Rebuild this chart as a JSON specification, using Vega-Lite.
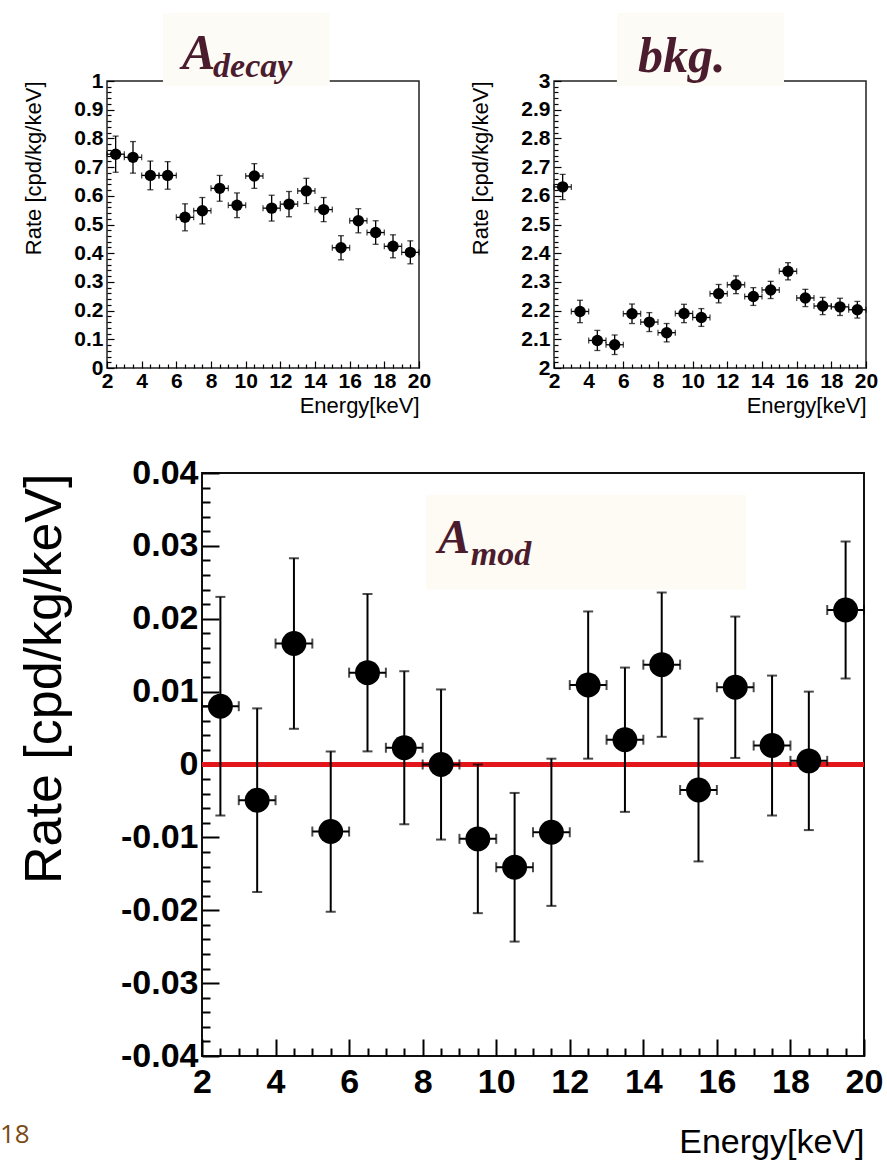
{
  "$schema": "https://vega.github.io/schema/vega-lite/v6.json",
  "background": "white",
  "padding": {"left": 0, "top": 12, "right": 5, "bottom": 5},
  "title": {"text": "18", "orient": "bottom", "anchor": "start", "dx": -15, "offset": -38, "fontSize": 26, "font": "Open Sans", "fontWeight": "normal", "color": "#7b4a14"},
  "datasets": {
    "decay": [
      {"E": 2.5, "r": 0.745, "err": 0.063, "w": 0.5},
      {"E": 3.5, "r": 0.734, "err": 0.055, "w": 0.5},
      {"E": 4.5, "r": 0.671, "err": 0.05, "w": 0.5},
      {"E": 5.5, "r": 0.671, "err": 0.048, "w": 0.5},
      {"E": 6.5, "r": 0.525, "err": 0.047, "w": 0.5},
      {"E": 7.5, "r": 0.548, "err": 0.046, "w": 0.5},
      {"E": 8.5, "r": 0.626, "err": 0.045, "w": 0.5},
      {"E": 9.5, "r": 0.567, "err": 0.043, "w": 0.5},
      {"E": 10.5, "r": 0.669, "err": 0.043, "w": 0.5},
      {"E": 11.5, "r": 0.557, "err": 0.045, "w": 0.5},
      {"E": 12.5, "r": 0.571, "err": 0.044, "w": 0.5},
      {"E": 13.5, "r": 0.617, "err": 0.044, "w": 0.5},
      {"E": 14.5, "r": 0.552, "err": 0.042, "w": 0.5},
      {"E": 15.5, "r": 0.419, "err": 0.042, "w": 0.5},
      {"E": 16.5, "r": 0.513, "err": 0.042, "w": 0.5},
      {"E": 17.5, "r": 0.472, "err": 0.041, "w": 0.5},
      {"E": 18.5, "r": 0.424, "err": 0.04, "w": 0.5},
      {"E": 19.5, "r": 0.403, "err": 0.04, "w": 0.5}
    ],
    "bkg": [
      {"E": 2.5, "r": 2.631, "err": 0.044, "w": 0.5},
      {"E": 3.5, "r": 2.197, "err": 0.039, "w": 0.5},
      {"E": 4.5, "r": 2.096, "err": 0.035, "w": 0.5},
      {"E": 5.5, "r": 2.081, "err": 0.034, "w": 0.5},
      {"E": 6.5, "r": 2.189, "err": 0.034, "w": 0.5},
      {"E": 7.5, "r": 2.16, "err": 0.033, "w": 0.5},
      {"E": 8.5, "r": 2.123, "err": 0.032, "w": 0.5},
      {"E": 9.5, "r": 2.19, "err": 0.032, "w": 0.5},
      {"E": 10.5, "r": 2.176, "err": 0.031, "w": 0.5},
      {"E": 11.5, "r": 2.259, "err": 0.032, "w": 0.5},
      {"E": 12.5, "r": 2.29, "err": 0.031, "w": 0.5},
      {"E": 13.5, "r": 2.249, "err": 0.031, "w": 0.5},
      {"E": 14.5, "r": 2.272, "err": 0.03, "w": 0.5},
      {"E": 15.5, "r": 2.337, "err": 0.03, "w": 0.5},
      {"E": 16.5, "r": 2.244, "err": 0.03, "w": 0.5},
      {"E": 17.5, "r": 2.216, "err": 0.03, "w": 0.5},
      {"E": 18.5, "r": 2.213, "err": 0.03, "w": 0.5},
      {"E": 19.5, "r": 2.203, "err": 0.029, "w": 0.5}
    ],
    "mod": [
      {"E": 2.5, "r": 0.008, "err": 0.015, "w": 0.5},
      {"E": 3.5, "r": -0.0049, "err": 0.0126, "w": 0.5},
      {"E": 4.5, "r": 0.0166, "err": 0.0117, "w": 0.5},
      {"E": 5.5, "r": -0.0092, "err": 0.011, "w": 0.5},
      {"E": 6.5, "r": 0.0126, "err": 0.0108, "w": 0.5},
      {"E": 7.5, "r": 0.0023, "err": 0.0105, "w": 0.5},
      {"E": 8.5, "r": 0.0, "err": 0.0103, "w": 0.5},
      {"E": 9.5, "r": -0.0102, "err": 0.0102, "w": 0.5},
      {"E": 10.5, "r": -0.0141, "err": 0.0102, "w": 0.5},
      {"E": 11.5, "r": -0.0093, "err": 0.0101, "w": 0.5},
      {"E": 12.5, "r": 0.0109, "err": 0.0101, "w": 0.5},
      {"E": 13.5, "r": 0.0034, "err": 0.0099, "w": 0.5},
      {"E": 14.5, "r": 0.0137, "err": 0.0099, "w": 0.5},
      {"E": 15.5, "r": -0.0035, "err": 0.0098, "w": 0.5},
      {"E": 16.5, "r": 0.0106, "err": 0.0097, "w": 0.5},
      {"E": 17.5, "r": 0.0026, "err": 0.0096, "w": 0.5},
      {"E": 18.5, "r": 0.0005, "err": 0.0095, "w": 0.5},
      {"E": 19.5, "r": 0.0212, "err": 0.0094, "w": 0.5}
    ]
  },
  "spacing": 38,
  "vconcat": [
    {
      "spacing": 0,
      "hconcat": [
        {"width": 6, "height": 1, "data": {"values": []}, "mark": "point", "view": {"stroke": null}},
        {
          "spacing": 36,
          "hconcat": [
            {
              "width": 312, "height": 287,
              "view": {"stroke": "#222", "strokeWidth": 1.5},
              "data": {"name": "decay"},
              "layer": [
                {"data": {"values": [{}]}, "mark": {"type": "rect", "color": "#fdfbf6"},
                 "encoding": {
                   "x": {"datum": 5.23, "type": "quantitative", "scale": {"domain": [2, 20], "zero": false, "nice": false},
                     "axis": {"values": [2,2.5,3,3.5,4,4.5,5,5.5,6,6.5,7,7.5,8,8.5,9,9.5,10,10.5,11,11.5,12,12.5,13,13.5,14,14.5,15,15.5,16,16.5,17,17.5,18,18.5,19,19.5,20], "labelExpr": "datum.value % 2 === 0 ? '' + datum.value : ''", "tickSize": {"condition": {"test": "datum.value % 2 === 0", "value": -7}, "value": -4}, "tickWidth": 1.2, "labelFontSize": 21, "labelPadding": 9, "labelOverlap": false, "labelFlush": false, "title": "Energy[keV]", "titleFontSize": 22, "titlePadding": 1}},
                   "x2": {"datum": 14.85},
                   "y": {"datum": 0.983, "type": "quantitative", "scale": {"domain": [0, 1], "zero": false, "nice": false},
                     "axis": {"values": [0,0.02,0.04,0.06,0.08,0.1,0.12,0.14,0.16,0.18,0.2,0.22,0.24,0.26,0.28,0.3,0.32,0.34,0.36,0.38,0.4,0.42,0.44,0.46,0.48,0.5,0.52,0.54,0.56,0.58,0.6,0.62,0.64,0.66,0.68,0.7,0.72,0.74,0.76,0.78,0.8,0.82,0.84,0.86,0.88,0.9,0.92,0.94,0.96,0.98,1], "labelExpr": "abs(datum.value*10 - round(datum.value*10)) < 1e-6 ? format(datum.value, '~g') : ''", "tickSize": {"condition": {"test": "abs(datum.value*10 - round(datum.value*10)) < 1e-6", "value": -7}, "value": -4}, "tickWidth": 1.2, "labelFontSize": 21, "labelPadding": 11, "labelOverlap": false, "minExtent": 33, "maxExtent": 33, "title": "Rate [cpd/kg/keV]", "titleFontSize": 22, "titlePadding": 29}},
                   "y2": {"datum": 1.237}}},
                {"data": {"values": [{}]}, "mark": {"type": "text", "text": "A", "font": "Liberation Serif", "fontStyle": "italic", "fontWeight": "bold", "fontSize": 50, "color": "#4b1c2e", "align": "left", "baseline": "alphabetic"},
                 "encoding": {
                   "x": {"datum": 6.33, "type": "quantitative", "scale": {"domain": [2, 20], "zero": false, "nice": false},
                     "axis": {"values": [2,2.5,3,3.5,4,4.5,5,5.5,6,6.5,7,7.5,8,8.5,9,9.5,10,10.5,11,11.5,12,12.5,13,13.5,14,14.5,15,15.5,16,16.5,17,17.5,18,18.5,19,19.5,20], "labelExpr": "datum.value % 2 === 0 ? '' + datum.value : ''", "tickSize": {"condition": {"test": "datum.value % 2 === 0", "value": -7}, "value": -4}, "tickWidth": 1.2, "labelFontSize": 21, "labelPadding": 9, "labelOverlap": false, "labelFlush": false, "title": "Energy[keV]", "titleFontSize": 22, "titlePadding": 1}},
                   "y": {"datum": 1.042, "type": "quantitative", "scale": {"domain": [0, 1], "zero": false, "nice": false},
                     "axis": {"values": [0,0.02,0.04,0.06,0.08,0.1,0.12,0.14,0.16,0.18,0.2,0.22,0.24,0.26,0.28,0.3,0.32,0.34,0.36,0.38,0.4,0.42,0.44,0.46,0.48,0.5,0.52,0.54,0.56,0.58,0.6,0.62,0.64,0.66,0.68,0.7,0.72,0.74,0.76,0.78,0.8,0.82,0.84,0.86,0.88,0.9,0.92,0.94,0.96,0.98,1], "labelExpr": "abs(datum.value*10 - round(datum.value*10)) < 1e-6 ? format(datum.value, '~g') : ''", "tickSize": {"condition": {"test": "abs(datum.value*10 - round(datum.value*10)) < 1e-6", "value": -7}, "value": -4}, "tickWidth": 1.2, "labelFontSize": 21, "labelPadding": 11, "labelOverlap": false, "minExtent": 33, "maxExtent": 33, "title": "Rate [cpd/kg/keV]", "titleFontSize": 22, "titlePadding": 29}}}},
                {"data": {"values": [{}]}, "mark": {"type": "text", "text": "decay", "font": "Liberation Serif", "fontStyle": "italic", "fontWeight": "bold", "fontSize": 34, "color": "#4b1c2e", "align": "left", "baseline": "alphabetic"},
                 "encoding": {
                   "x": {"datum": 8.12, "type": "quantitative", "scale": {"domain": [2, 20], "zero": false, "nice": false},
                     "axis": {"values": [2,2.5,3,3.5,4,4.5,5,5.5,6,6.5,7,7.5,8,8.5,9,9.5,10,10.5,11,11.5,12,12.5,13,13.5,14,14.5,15,15.5,16,16.5,17,17.5,18,18.5,19,19.5,20], "labelExpr": "datum.value % 2 === 0 ? '' + datum.value : ''", "tickSize": {"condition": {"test": "datum.value % 2 === 0", "value": -7}, "value": -4}, "tickWidth": 1.2, "labelFontSize": 21, "labelPadding": 9, "labelOverlap": false, "labelFlush": false, "title": "Energy[keV]", "titleFontSize": 22, "titlePadding": 1}},
                   "y": {"datum": 1.014, "type": "quantitative", "scale": {"domain": [0, 1], "zero": false, "nice": false},
                     "axis": {"values": [0,0.02,0.04,0.06,0.08,0.1,0.12,0.14,0.16,0.18,0.2,0.22,0.24,0.26,0.28,0.3,0.32,0.34,0.36,0.38,0.4,0.42,0.44,0.46,0.48,0.5,0.52,0.54,0.56,0.58,0.6,0.62,0.64,0.66,0.68,0.7,0.72,0.74,0.76,0.78,0.8,0.82,0.84,0.86,0.88,0.9,0.92,0.94,0.96,0.98,1], "labelExpr": "abs(datum.value*10 - round(datum.value*10)) < 1e-6 ? format(datum.value, '~g') : ''", "tickSize": {"condition": {"test": "abs(datum.value*10 - round(datum.value*10)) < 1e-6", "value": -7}, "value": -4}, "tickWidth": 1.2, "labelFontSize": 21, "labelPadding": 11, "labelOverlap": false, "minExtent": 33, "maxExtent": 33, "title": "Rate [cpd/kg/keV]", "titleFontSize": 22, "titlePadding": 29}}}},
                {"mark": {"type": "errorbar", "ticks": {"size": 6}, "color": "#000", "thickness": 1.3},
                 "encoding": {
                   "x": {"field": "E", "type": "quantitative", "scale": {"domain": [2, 20], "zero": false, "nice": false},
                     "axis": {"values": [2,2.5,3,3.5,4,4.5,5,5.5,6,6.5,7,7.5,8,8.5,9,9.5,10,10.5,11,11.5,12,12.5,13,13.5,14,14.5,15,15.5,16,16.5,17,17.5,18,18.5,19,19.5,20], "labelExpr": "datum.value % 2 === 0 ? '' + datum.value : ''", "tickSize": {"condition": {"test": "datum.value % 2 === 0", "value": -7}, "value": -4}, "tickWidth": 1.2, "labelFontSize": 21, "labelPadding": 9, "labelOverlap": false, "labelFlush": false, "title": "Energy[keV]", "titleFontSize": 22, "titlePadding": 1}},
                   "y": {"field": "r", "type": "quantitative", "scale": {"domain": [0, 1], "zero": false, "nice": false},
                     "axis": {"values": [0,0.02,0.04,0.06,0.08,0.1,0.12,0.14,0.16,0.18,0.2,0.22,0.24,0.26,0.28,0.3,0.32,0.34,0.36,0.38,0.4,0.42,0.44,0.46,0.48,0.5,0.52,0.54,0.56,0.58,0.6,0.62,0.64,0.66,0.68,0.7,0.72,0.74,0.76,0.78,0.8,0.82,0.84,0.86,0.88,0.9,0.92,0.94,0.96,0.98,1], "labelExpr": "abs(datum.value*10 - round(datum.value*10)) < 1e-6 ? format(datum.value, '~g') : ''", "tickSize": {"condition": {"test": "abs(datum.value*10 - round(datum.value*10)) < 1e-6", "value": -7}, "value": -4}, "tickWidth": 1.2, "labelFontSize": 21, "labelPadding": 11, "labelOverlap": false, "minExtent": 33, "maxExtent": 33, "title": "Rate [cpd/kg/keV]", "titleFontSize": 22, "titlePadding": 29}},
                   "yError": {"field": "err"}}},
                {"mark": {"type": "errorbar", "ticks": {"size": 6}, "color": "#000", "thickness": 1.3},
                 "encoding": {
                   "x": {"field": "E", "type": "quantitative", "scale": {"domain": [2, 20], "zero": false, "nice": false},
                     "axis": {"values": [2,2.5,3,3.5,4,4.5,5,5.5,6,6.5,7,7.5,8,8.5,9,9.5,10,10.5,11,11.5,12,12.5,13,13.5,14,14.5,15,15.5,16,16.5,17,17.5,18,18.5,19,19.5,20], "labelExpr": "datum.value % 2 === 0 ? '' + datum.value : ''", "tickSize": {"condition": {"test": "datum.value % 2 === 0", "value": -7}, "value": -4}, "tickWidth": 1.2, "labelFontSize": 21, "labelPadding": 9, "labelOverlap": false, "labelFlush": false, "title": "Energy[keV]", "titleFontSize": 22, "titlePadding": 1}},
                   "y": {"field": "r", "type": "quantitative", "scale": {"domain": [0, 1], "zero": false, "nice": false},
                     "axis": {"values": [0,0.02,0.04,0.06,0.08,0.1,0.12,0.14,0.16,0.18,0.2,0.22,0.24,0.26,0.28,0.3,0.32,0.34,0.36,0.38,0.4,0.42,0.44,0.46,0.48,0.5,0.52,0.54,0.56,0.58,0.6,0.62,0.64,0.66,0.68,0.7,0.72,0.74,0.76,0.78,0.8,0.82,0.84,0.86,0.88,0.9,0.92,0.94,0.96,0.98,1], "labelExpr": "abs(datum.value*10 - round(datum.value*10)) < 1e-6 ? format(datum.value, '~g') : ''", "tickSize": {"condition": {"test": "abs(datum.value*10 - round(datum.value*10)) < 1e-6", "value": -7}, "value": -4}, "tickWidth": 1.2, "labelFontSize": 21, "labelPadding": 11, "labelOverlap": false, "minExtent": 33, "maxExtent": 33, "title": "Rate [cpd/kg/keV]", "titleFontSize": 22, "titlePadding": 29}},
                   "xError": {"field": "w"}}},
                {"mark": {"type": "point", "filled": true, "size": 130, "color": "#000", "opacity": 1},
                 "encoding": {
                   "x": {"field": "E", "type": "quantitative", "scale": {"domain": [2, 20], "zero": false, "nice": false},
                     "axis": {"values": [2,2.5,3,3.5,4,4.5,5,5.5,6,6.5,7,7.5,8,8.5,9,9.5,10,10.5,11,11.5,12,12.5,13,13.5,14,14.5,15,15.5,16,16.5,17,17.5,18,18.5,19,19.5,20], "labelExpr": "datum.value % 2 === 0 ? '' + datum.value : ''", "tickSize": {"condition": {"test": "datum.value % 2 === 0", "value": -7}, "value": -4}, "tickWidth": 1.2, "labelFontSize": 21, "labelPadding": 9, "labelOverlap": false, "labelFlush": false, "title": "Energy[keV]", "titleFontSize": 22, "titlePadding": 1}},
                   "y": {"field": "r", "type": "quantitative", "scale": {"domain": [0, 1], "zero": false, "nice": false},
                     "axis": {"values": [0,0.02,0.04,0.06,0.08,0.1,0.12,0.14,0.16,0.18,0.2,0.22,0.24,0.26,0.28,0.3,0.32,0.34,0.36,0.38,0.4,0.42,0.44,0.46,0.48,0.5,0.52,0.54,0.56,0.58,0.6,0.62,0.64,0.66,0.68,0.7,0.72,0.74,0.76,0.78,0.8,0.82,0.84,0.86,0.88,0.9,0.92,0.94,0.96,0.98,1], "labelExpr": "abs(datum.value*10 - round(datum.value*10)) < 1e-6 ? format(datum.value, '~g') : ''", "tickSize": {"condition": {"test": "abs(datum.value*10 - round(datum.value*10)) < 1e-6", "value": -7}, "value": -4}, "tickWidth": 1.2, "labelFontSize": 21, "labelPadding": 11, "labelOverlap": false, "minExtent": 33, "maxExtent": 33, "title": "Rate [cpd/kg/keV]", "titleFontSize": 22, "titlePadding": 29}}
                 }}
              ]
            },
            {
              "width": 312, "height": 287,
              "view": {"stroke": "#222", "strokeWidth": 1.5},
              "data": {"name": "bkg"},
              "layer": [
                {"data": {"values": [{}]}, "mark": {"type": "rect", "color": "#fdfbf6"},
                 "encoding": {
                   "x": {"datum": 5.63, "type": "quantitative", "scale": {"domain": [2, 20], "zero": false, "nice": false},
                     "axis": {"values": [2,2.5,3,3.5,4,4.5,5,5.5,6,6.5,7,7.5,8,8.5,9,9.5,10,10.5,11,11.5,12,12.5,13,13.5,14,14.5,15,15.5,16,16.5,17,17.5,18,18.5,19,19.5,20], "labelExpr": "datum.value % 2 === 0 ? '' + datum.value : ''", "tickSize": {"condition": {"test": "datum.value % 2 === 0", "value": -7}, "value": -4}, "tickWidth": 1.2, "labelFontSize": 21, "labelPadding": 9, "labelOverlap": false, "labelFlush": false, "title": "Energy[keV]", "titleFontSize": 22, "titlePadding": 1}},
                   "x2": {"datum": 15.27},
                   "y": {"datum": 2.983, "type": "quantitative", "scale": {"domain": [2, 3], "zero": false, "nice": false},
                     "axis": {"values": [2,2.02,2.04,2.06,2.08,2.1,2.12,2.14,2.16,2.18,2.2,2.22,2.24,2.26,2.28,2.3,2.32,2.34,2.36,2.38,2.4,2.42,2.44,2.46,2.48,2.5,2.52,2.54,2.56,2.58,2.6,2.62,2.64,2.66,2.68,2.7,2.72,2.74,2.76,2.78,2.8,2.82,2.84,2.86,2.88,2.9,2.92,2.94,2.96,2.98,3], "labelExpr": "abs(datum.value*10 - round(datum.value*10)) < 1e-6 ? format(datum.value, '~g') : ''", "tickSize": {"condition": {"test": "abs(datum.value*10 - round(datum.value*10)) < 1e-6", "value": -7}, "value": -4}, "tickWidth": 1.2, "labelFontSize": 21, "labelPadding": 11, "labelOverlap": false, "minExtent": 33, "maxExtent": 33, "title": "Rate [cpd/kg/keV]", "titleFontSize": 22, "titlePadding": 29}},
                   "y2": {"datum": 3.237}}},
                {"data": {"values": [{}]}, "mark": {"type": "text", "text": "bkg.", "font": "Liberation Serif", "fontStyle": "italic", "fontWeight": "bold", "fontSize": 50, "color": "#4b1c2e", "align": "left", "baseline": "alphabetic"},
                 "encoding": {
                   "x": {"datum": 6.85, "type": "quantitative", "scale": {"domain": [2, 20], "zero": false, "nice": false},
                     "axis": {"values": [2,2.5,3,3.5,4,4.5,5,5.5,6,6.5,7,7.5,8,8.5,9,9.5,10,10.5,11,11.5,12,12.5,13,13.5,14,14.5,15,15.5,16,16.5,17,17.5,18,18.5,19,19.5,20], "labelExpr": "datum.value % 2 === 0 ? '' + datum.value : ''", "tickSize": {"condition": {"test": "datum.value % 2 === 0", "value": -7}, "value": -4}, "tickWidth": 1.2, "labelFontSize": 21, "labelPadding": 9, "labelOverlap": false, "labelFlush": false, "title": "Energy[keV]", "titleFontSize": 22, "titlePadding": 1}},
                   "y": {"datum": 3.031, "type": "quantitative", "scale": {"domain": [2, 3], "zero": false, "nice": false},
                     "axis": {"values": [2,2.02,2.04,2.06,2.08,2.1,2.12,2.14,2.16,2.18,2.2,2.22,2.24,2.26,2.28,2.3,2.32,2.34,2.36,2.38,2.4,2.42,2.44,2.46,2.48,2.5,2.52,2.54,2.56,2.58,2.6,2.62,2.64,2.66,2.68,2.7,2.72,2.74,2.76,2.78,2.8,2.82,2.84,2.86,2.88,2.9,2.92,2.94,2.96,2.98,3], "labelExpr": "abs(datum.value*10 - round(datum.value*10)) < 1e-6 ? format(datum.value, '~g') : ''", "tickSize": {"condition": {"test": "abs(datum.value*10 - round(datum.value*10)) < 1e-6", "value": -7}, "value": -4}, "tickWidth": 1.2, "labelFontSize": 21, "labelPadding": 11, "labelOverlap": false, "minExtent": 33, "maxExtent": 33, "title": "Rate [cpd/kg/keV]", "titleFontSize": 22, "titlePadding": 29}}}},
                {"mark": {"type": "errorbar", "ticks": {"size": 6}, "color": "#000", "thickness": 1.3},
                 "encoding": {
                   "x": {"field": "E", "type": "quantitative", "scale": {"domain": [2, 20], "zero": false, "nice": false},
                     "axis": {"values": [2,2.5,3,3.5,4,4.5,5,5.5,6,6.5,7,7.5,8,8.5,9,9.5,10,10.5,11,11.5,12,12.5,13,13.5,14,14.5,15,15.5,16,16.5,17,17.5,18,18.5,19,19.5,20], "labelExpr": "datum.value % 2 === 0 ? '' + datum.value : ''", "tickSize": {"condition": {"test": "datum.value % 2 === 0", "value": -7}, "value": -4}, "tickWidth": 1.2, "labelFontSize": 21, "labelPadding": 9, "labelOverlap": false, "labelFlush": false, "title": "Energy[keV]", "titleFontSize": 22, "titlePadding": 1}},
                   "y": {"field": "r", "type": "quantitative", "scale": {"domain": [2, 3], "zero": false, "nice": false},
                     "axis": {"values": [2,2.02,2.04,2.06,2.08,2.1,2.12,2.14,2.16,2.18,2.2,2.22,2.24,2.26,2.28,2.3,2.32,2.34,2.36,2.38,2.4,2.42,2.44,2.46,2.48,2.5,2.52,2.54,2.56,2.58,2.6,2.62,2.64,2.66,2.68,2.7,2.72,2.74,2.76,2.78,2.8,2.82,2.84,2.86,2.88,2.9,2.92,2.94,2.96,2.98,3], "labelExpr": "abs(datum.value*10 - round(datum.value*10)) < 1e-6 ? format(datum.value, '~g') : ''", "tickSize": {"condition": {"test": "abs(datum.value*10 - round(datum.value*10)) < 1e-6", "value": -7}, "value": -4}, "tickWidth": 1.2, "labelFontSize": 21, "labelPadding": 11, "labelOverlap": false, "minExtent": 33, "maxExtent": 33, "title": "Rate [cpd/kg/keV]", "titleFontSize": 22, "titlePadding": 29}},
                   "yError": {"field": "err"}}},
                {"mark": {"type": "errorbar", "ticks": {"size": 6}, "color": "#000", "thickness": 1.3},
                 "encoding": {
                   "x": {"field": "E", "type": "quantitative", "scale": {"domain": [2, 20], "zero": false, "nice": false},
                     "axis": {"values": [2,2.5,3,3.5,4,4.5,5,5.5,6,6.5,7,7.5,8,8.5,9,9.5,10,10.5,11,11.5,12,12.5,13,13.5,14,14.5,15,15.5,16,16.5,17,17.5,18,18.5,19,19.5,20], "labelExpr": "datum.value % 2 === 0 ? '' + datum.value : ''", "tickSize": {"condition": {"test": "datum.value % 2 === 0", "value": -7}, "value": -4}, "tickWidth": 1.2, "labelFontSize": 21, "labelPadding": 9, "labelOverlap": false, "labelFlush": false, "title": "Energy[keV]", "titleFontSize": 22, "titlePadding": 1}},
                   "y": {"field": "r", "type": "quantitative", "scale": {"domain": [2, 3], "zero": false, "nice": false},
                     "axis": {"values": [2,2.02,2.04,2.06,2.08,2.1,2.12,2.14,2.16,2.18,2.2,2.22,2.24,2.26,2.28,2.3,2.32,2.34,2.36,2.38,2.4,2.42,2.44,2.46,2.48,2.5,2.52,2.54,2.56,2.58,2.6,2.62,2.64,2.66,2.68,2.7,2.72,2.74,2.76,2.78,2.8,2.82,2.84,2.86,2.88,2.9,2.92,2.94,2.96,2.98,3], "labelExpr": "abs(datum.value*10 - round(datum.value*10)) < 1e-6 ? format(datum.value, '~g') : ''", "tickSize": {"condition": {"test": "abs(datum.value*10 - round(datum.value*10)) < 1e-6", "value": -7}, "value": -4}, "tickWidth": 1.2, "labelFontSize": 21, "labelPadding": 11, "labelOverlap": false, "minExtent": 33, "maxExtent": 33, "title": "Rate [cpd/kg/keV]", "titleFontSize": 22, "titlePadding": 29}},
                   "xError": {"field": "w"}}},
                {"mark": {"type": "point", "filled": true, "size": 130, "color": "#000", "opacity": 1},
                 "encoding": {
                   "x": {"field": "E", "type": "quantitative", "scale": {"domain": [2, 20], "zero": false, "nice": false},
                     "axis": {"values": [2,2.5,3,3.5,4,4.5,5,5.5,6,6.5,7,7.5,8,8.5,9,9.5,10,10.5,11,11.5,12,12.5,13,13.5,14,14.5,15,15.5,16,16.5,17,17.5,18,18.5,19,19.5,20], "labelExpr": "datum.value % 2 === 0 ? '' + datum.value : ''", "tickSize": {"condition": {"test": "datum.value % 2 === 0", "value": -7}, "value": -4}, "tickWidth": 1.2, "labelFontSize": 21, "labelPadding": 9, "labelOverlap": false, "labelFlush": false, "title": "Energy[keV]", "titleFontSize": 22, "titlePadding": 1}},
                   "y": {"field": "r", "type": "quantitative", "scale": {"domain": [2, 3], "zero": false, "nice": false},
                     "axis": {"values": [2,2.02,2.04,2.06,2.08,2.1,2.12,2.14,2.16,2.18,2.2,2.22,2.24,2.26,2.28,2.3,2.32,2.34,2.36,2.38,2.4,2.42,2.44,2.46,2.48,2.5,2.52,2.54,2.56,2.58,2.6,2.62,2.64,2.66,2.68,2.7,2.72,2.74,2.76,2.78,2.8,2.82,2.84,2.86,2.88,2.9,2.92,2.94,2.96,2.98,3], "labelExpr": "abs(datum.value*10 - round(datum.value*10)) < 1e-6 ? format(datum.value, '~g') : ''", "tickSize": {"condition": {"test": "abs(datum.value*10 - round(datum.value*10)) < 1e-6", "value": -7}, "value": -4}, "tickWidth": 1.2, "labelFontSize": 21, "labelPadding": 11, "labelOverlap": false, "minExtent": 33, "maxExtent": 33, "title": "Rate [cpd/kg/keV]", "titleFontSize": 22, "titlePadding": 29}}
                 }}
              ]
            }
          ]
        }
      ]
    },
    {
      "spacing": 0,
      "hconcat": [
        {"width": 1, "height": 1, "data": {"values": []}, "mark": "point", "view": {"stroke": null}},
        {
          "width": 662, "height": 583,
          "view": {"stroke": "#111", "strokeWidth": 2},
          "data": {"name": "mod"},
          "layer": [
            {"data": {"values": [{}]}, "mark": {"type": "rect", "color": "#fdfbf3"},
             "encoding": {
               "x": {"datum": 8.09, "type": "quantitative", "scale": {"domain": [2, 20], "zero": false, "nice": false},
                 "axis": {"values": [2,2.5,3,3.5,4,4.5,5,5.5,6,6.5,7,7.5,8,8.5,9,9.5,10,10.5,11,11.5,12,12.5,13,13.5,14,14.5,15,15.5,16,16.5,17,17.5,18,18.5,19,19.5,20], "labelExpr": "datum.value % 2 === 0 ? '' + datum.value : ''", "tickSize": {"condition": {"test": "datum.value % 2 === 0", "value": -17}, "value": -8}, "tickWidth": 2, "labelFontSize": 34, "labelPadding": 26, "labelOverlap": false, "labelFlush": false, "title": "Energy[keV]", "titleFontSize": 34, "titlePadding": 17}},
               "x2": {"datum": 16.79},
               "y": {"datum": 0.024, "type": "quantitative", "scale": {"domain": [-0.04, 0.04], "zero": false, "nice": false},
                 "axis": {"values": [-0.04,-0.038,-0.036,-0.034,-0.032,-0.03,-0.028,-0.026,-0.024,-0.022,-0.02,-0.018,-0.016,-0.014,-0.012,-0.01,-0.008,-0.006,-0.004,-0.002,0,0.002,0.004,0.006,0.008,0.01,0.012,0.014,0.016,0.018,0.02,0.022,0.024,0.026,0.028,0.03,0.032,0.034,0.036,0.038,0.04], "labelExpr": "abs(datum.value*100 - round(datum.value*100)) < 1e-6 ? replace(format(datum.value, '~g'), '\u2212', '-') : ''", "tickSize": {"condition": {"test": "abs(datum.value*100 - round(datum.value*100)) < 1e-6", "value": -17}, "value": -8}, "tickWidth": 2, "labelFontSize": 34, "labelPadding": 21, "labelOverlap": false, "minExtent": 84, "maxExtent": 84, "title": "Rate [cpd/kg/keV]", "titleFontSize": 52, "titlePadding": 47}},
               "y2": {"datum": 0.037}}},
            {"data": {"values": [{}]}, "mark": {"type": "text", "text": "A", "font": "Liberation Serif", "fontStyle": "italic", "fontWeight": "bold", "fontSize": 48, "color": "#4b1c2e", "align": "left", "baseline": "alphabetic"},
             "encoding": {
               "x": {"datum": 8.42, "type": "quantitative", "scale": {"domain": [2, 20], "zero": false, "nice": false},
                 "axis": {"values": [2,2.5,3,3.5,4,4.5,5,5.5,6,6.5,7,7.5,8,8.5,9,9.5,10,10.5,11,11.5,12,12.5,13,13.5,14,14.5,15,15.5,16,16.5,17,17.5,18,18.5,19,19.5,20], "labelExpr": "datum.value % 2 === 0 ? '' + datum.value : ''", "tickSize": {"condition": {"test": "datum.value % 2 === 0", "value": -17}, "value": -8}, "tickWidth": 2, "labelFontSize": 34, "labelPadding": 26, "labelOverlap": false, "labelFlush": false, "title": "Energy[keV]", "titleFontSize": 34, "titlePadding": 17}},
               "y": {"datum": 0.029, "type": "quantitative", "scale": {"domain": [-0.04, 0.04], "zero": false, "nice": false},
                 "axis": {"values": [-0.04,-0.038,-0.036,-0.034,-0.032,-0.03,-0.028,-0.026,-0.024,-0.022,-0.02,-0.018,-0.016,-0.014,-0.012,-0.01,-0.008,-0.006,-0.004,-0.002,0,0.002,0.004,0.006,0.008,0.01,0.012,0.014,0.016,0.018,0.02,0.022,0.024,0.026,0.028,0.03,0.032,0.034,0.036,0.038,0.04], "labelExpr": "abs(datum.value*100 - round(datum.value*100)) < 1e-6 ? replace(format(datum.value, '~g'), '\u2212', '-') : ''", "tickSize": {"condition": {"test": "abs(datum.value*100 - round(datum.value*100)) < 1e-6", "value": -17}, "value": -8}, "tickWidth": 2, "labelFontSize": 34, "labelPadding": 21, "labelOverlap": false, "minExtent": 84, "maxExtent": 84, "title": "Rate [cpd/kg/keV]", "titleFontSize": 52, "titlePadding": 47}}}},
            {"data": {"values": [{}]}, "mark": {"type": "text", "text": "mod", "font": "Liberation Serif", "fontStyle": "italic", "fontWeight": "bold", "fontSize": 34, "color": "#4b1c2e", "align": "left", "baseline": "alphabetic"},
             "encoding": {
               "x": {"datum": 9.31, "type": "quantitative", "scale": {"domain": [2, 20], "zero": false, "nice": false},
                 "axis": {"values": [2,2.5,3,3.5,4,4.5,5,5.5,6,6.5,7,7.5,8,8.5,9,9.5,10,10.5,11,11.5,12,12.5,13,13.5,14,14.5,15,15.5,16,16.5,17,17.5,18,18.5,19,19.5,20], "labelExpr": "datum.value % 2 === 0 ? '' + datum.value : ''", "tickSize": {"condition": {"test": "datum.value % 2 === 0", "value": -17}, "value": -8}, "tickWidth": 2, "labelFontSize": 34, "labelPadding": 26, "labelOverlap": false, "labelFlush": false, "title": "Energy[keV]", "titleFontSize": 34, "titlePadding": 17}},
               "y": {"datum": 0.0274, "type": "quantitative", "scale": {"domain": [-0.04, 0.04], "zero": false, "nice": false},
                 "axis": {"values": [-0.04,-0.038,-0.036,-0.034,-0.032,-0.03,-0.028,-0.026,-0.024,-0.022,-0.02,-0.018,-0.016,-0.014,-0.012,-0.01,-0.008,-0.006,-0.004,-0.002,0,0.002,0.004,0.006,0.008,0.01,0.012,0.014,0.016,0.018,0.02,0.022,0.024,0.026,0.028,0.03,0.032,0.034,0.036,0.038,0.04], "labelExpr": "abs(datum.value*100 - round(datum.value*100)) < 1e-6 ? replace(format(datum.value, '~g'), '\u2212', '-') : ''", "tickSize": {"condition": {"test": "abs(datum.value*100 - round(datum.value*100)) < 1e-6", "value": -17}, "value": -8}, "tickWidth": 2, "labelFontSize": 34, "labelPadding": 21, "labelOverlap": false, "minExtent": 84, "maxExtent": 84, "title": "Rate [cpd/kg/keV]", "titleFontSize": 52, "titlePadding": 47}}}},
            {"data": {"values": [{}]}, "mark": {"type": "rule", "color": "#e3161c", "strokeWidth": 5},
             "encoding": {
               "x": {"datum": 2, "type": "quantitative", "scale": {"domain": [2, 20], "zero": false, "nice": false},
                 "axis": {"values": [2,2.5,3,3.5,4,4.5,5,5.5,6,6.5,7,7.5,8,8.5,9,9.5,10,10.5,11,11.5,12,12.5,13,13.5,14,14.5,15,15.5,16,16.5,17,17.5,18,18.5,19,19.5,20], "labelExpr": "datum.value % 2 === 0 ? '' + datum.value : ''", "tickSize": {"condition": {"test": "datum.value % 2 === 0", "value": -17}, "value": -8}, "tickWidth": 2, "labelFontSize": 34, "labelPadding": 26, "labelOverlap": false, "labelFlush": false, "title": "Energy[keV]", "titleFontSize": 34, "titlePadding": 17}},
               "x2": {"datum": 20},
               "y": {"datum": 0, "type": "quantitative", "scale": {"domain": [-0.04, 0.04], "zero": false, "nice": false},
                 "axis": {"values": [-0.04,-0.038,-0.036,-0.034,-0.032,-0.03,-0.028,-0.026,-0.024,-0.022,-0.02,-0.018,-0.016,-0.014,-0.012,-0.01,-0.008,-0.006,-0.004,-0.002,0,0.002,0.004,0.006,0.008,0.01,0.012,0.014,0.016,0.018,0.02,0.022,0.024,0.026,0.028,0.03,0.032,0.034,0.036,0.038,0.04], "labelExpr": "abs(datum.value*100 - round(datum.value*100)) < 1e-6 ? replace(format(datum.value, '~g'), '\u2212', '-') : ''", "tickSize": {"condition": {"test": "abs(datum.value*100 - round(datum.value*100)) < 1e-6", "value": -17}, "value": -8}, "tickWidth": 2, "labelFontSize": 34, "labelPadding": 21, "labelOverlap": false, "minExtent": 84, "maxExtent": 84, "title": "Rate [cpd/kg/keV]", "titleFontSize": 52, "titlePadding": 47}}}},
            {"mark": {"type": "errorbar", "ticks": {"size": 10}, "color": "#000", "thickness": 2},
             "encoding": {
               "x": {"field": "E", "type": "quantitative", "scale": {"domain": [2, 20], "zero": false, "nice": false},
                 "axis": {"values": [2,2.5,3,3.5,4,4.5,5,5.5,6,6.5,7,7.5,8,8.5,9,9.5,10,10.5,11,11.5,12,12.5,13,13.5,14,14.5,15,15.5,16,16.5,17,17.5,18,18.5,19,19.5,20], "labelExpr": "datum.value % 2 === 0 ? '' + datum.value : ''", "tickSize": {"condition": {"test": "datum.value % 2 === 0", "value": -17}, "value": -8}, "tickWidth": 2, "labelFontSize": 34, "labelPadding": 26, "labelOverlap": false, "labelFlush": false, "title": "Energy[keV]", "titleFontSize": 34, "titlePadding": 17}},
               "y": {"field": "r", "type": "quantitative", "scale": {"domain": [-0.04, 0.04], "zero": false, "nice": false},
                 "axis": {"values": [-0.04,-0.038,-0.036,-0.034,-0.032,-0.03,-0.028,-0.026,-0.024,-0.022,-0.02,-0.018,-0.016,-0.014,-0.012,-0.01,-0.008,-0.006,-0.004,-0.002,0,0.002,0.004,0.006,0.008,0.01,0.012,0.014,0.016,0.018,0.02,0.022,0.024,0.026,0.028,0.03,0.032,0.034,0.036,0.038,0.04], "labelExpr": "abs(datum.value*100 - round(datum.value*100)) < 1e-6 ? replace(format(datum.value, '~g'), '\u2212', '-') : ''", "tickSize": {"condition": {"test": "abs(datum.value*100 - round(datum.value*100)) < 1e-6", "value": -17}, "value": -8}, "tickWidth": 2, "labelFontSize": 34, "labelPadding": 21, "labelOverlap": false, "minExtent": 84, "maxExtent": 84, "title": "Rate [cpd/kg/keV]", "titleFontSize": 52, "titlePadding": 47}},
               "yError": {"field": "err"}}},
            {"mark": {"type": "errorbar", "ticks": {"size": 10}, "color": "#000", "thickness": 2},
             "encoding": {
               "x": {"field": "E", "type": "quantitative", "scale": {"domain": [2, 20], "zero": false, "nice": false},
                 "axis": {"values": [2,2.5,3,3.5,4,4.5,5,5.5,6,6.5,7,7.5,8,8.5,9,9.5,10,10.5,11,11.5,12,12.5,13,13.5,14,14.5,15,15.5,16,16.5,17,17.5,18,18.5,19,19.5,20], "labelExpr": "datum.value % 2 === 0 ? '' + datum.value : ''", "tickSize": {"condition": {"test": "datum.value % 2 === 0", "value": -17}, "value": -8}, "tickWidth": 2, "labelFontSize": 34, "labelPadding": 26, "labelOverlap": false, "labelFlush": false, "title": "Energy[keV]", "titleFontSize": 34, "titlePadding": 17}},
               "y": {"field": "r", "type": "quantitative", "scale": {"domain": [-0.04, 0.04], "zero": false, "nice": false},
                 "axis": {"values": [-0.04,-0.038,-0.036,-0.034,-0.032,-0.03,-0.028,-0.026,-0.024,-0.022,-0.02,-0.018,-0.016,-0.014,-0.012,-0.01,-0.008,-0.006,-0.004,-0.002,0,0.002,0.004,0.006,0.008,0.01,0.012,0.014,0.016,0.018,0.02,0.022,0.024,0.026,0.028,0.03,0.032,0.034,0.036,0.038,0.04], "labelExpr": "abs(datum.value*100 - round(datum.value*100)) < 1e-6 ? replace(format(datum.value, '~g'), '\u2212', '-') : ''", "tickSize": {"condition": {"test": "abs(datum.value*100 - round(datum.value*100)) < 1e-6", "value": -17}, "value": -8}, "tickWidth": 2, "labelFontSize": 34, "labelPadding": 21, "labelOverlap": false, "minExtent": 84, "maxExtent": 84, "title": "Rate [cpd/kg/keV]", "titleFontSize": 52, "titlePadding": 47}},
               "xError": {"field": "w"}}},
            {"mark": {"type": "point", "filled": true, "size": 620, "color": "#000", "opacity": 1},
             "encoding": {
               "x": {"field": "E", "type": "quantitative", "scale": {"domain": [2, 20], "zero": false, "nice": false},
                 "axis": {"values": [2,2.5,3,3.5,4,4.5,5,5.5,6,6.5,7,7.5,8,8.5,9,9.5,10,10.5,11,11.5,12,12.5,13,13.5,14,14.5,15,15.5,16,16.5,17,17.5,18,18.5,19,19.5,20], "labelExpr": "datum.value % 2 === 0 ? '' + datum.value : ''", "tickSize": {"condition": {"test": "datum.value % 2 === 0", "value": -17}, "value": -8}, "tickWidth": 2, "labelFontSize": 34, "labelPadding": 26, "labelOverlap": false, "labelFlush": false, "title": "Energy[keV]", "titleFontSize": 34, "titlePadding": 17}},
               "y": {"field": "r", "type": "quantitative", "scale": {"domain": [-0.04, 0.04], "zero": false, "nice": false},
                 "axis": {"values": [-0.04,-0.038,-0.036,-0.034,-0.032,-0.03,-0.028,-0.026,-0.024,-0.022,-0.02,-0.018,-0.016,-0.014,-0.012,-0.01,-0.008,-0.006,-0.004,-0.002,0,0.002,0.004,0.006,0.008,0.01,0.012,0.014,0.016,0.018,0.02,0.022,0.024,0.026,0.028,0.03,0.032,0.034,0.036,0.038,0.04], "labelExpr": "abs(datum.value*100 - round(datum.value*100)) < 1e-6 ? replace(format(datum.value, '~g'), '\u2212', '-') : ''", "tickSize": {"condition": {"test": "abs(datum.value*100 - round(datum.value*100)) < 1e-6", "value": -17}, "value": -8}, "tickWidth": 2, "labelFontSize": 34, "labelPadding": 21, "labelOverlap": false, "minExtent": 84, "maxExtent": 84, "title": "Rate [cpd/kg/keV]", "titleFontSize": 52, "titlePadding": 47}}
             }}
          ]
        }
      ]
    }
  ],
  "config": {
    "scale": {"zero": false},
    "axis": {"domain": false, "grid": false, "labelFont": "Liberation Sans", "labelFontWeight": "bold", "labelColor": "#000", "titleFont": "Liberation Sans", "titleFontWeight": "normal", "titleColor": "#000", "tickColor": "#000", "labelOverlap": false, "labelFlush": false, "labelBound": false, "titleAnchor": "end"}
  }
}
